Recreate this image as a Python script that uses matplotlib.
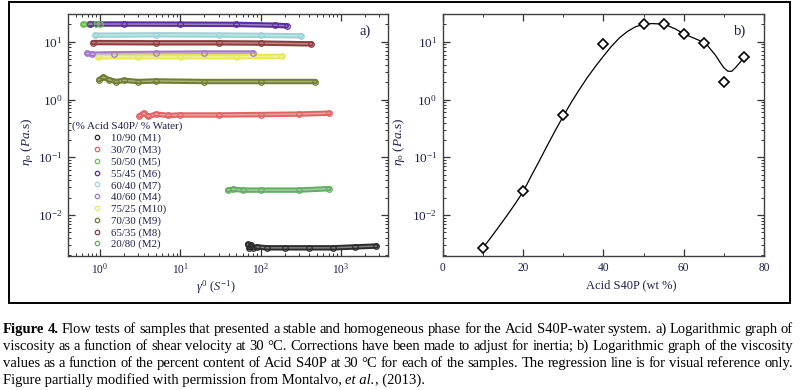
import numpy as np
import matplotlib
matplotlib.use('Agg')
import matplotlib.pyplot as plt
from matplotlib.lines import Line2D
from matplotlib.patches import Rectangle
from matplotlib.ticker import LogLocator, MultipleLocator, NullFormatter
from matplotlib.colors import to_rgb

plt.rcParams['font.family'] = ['Liberation Serif', 'DejaVu Serif']
plt.rcParams['mathtext.fontset'] = 'custom'
plt.rcParams['mathtext.rm'] = 'Liberation Serif'
plt.rcParams['mathtext.it'] = 'Liberation Serif:italic'
plt.rcParams['mathtext.bf'] = 'Liberation Serif:bold'

NAVY = '#1f1f4d'

# ---------------- Panel a data (viscosity vs shear rate) ----------------
series_labels = ['10/90 (M1)', '30/70 (M3)', '50/50 (M5)', '55/45 (M6)', '60/40 (M7)',
                 '40/60 (M4)', '75/25 (M10)', '70/30 (M9)', '65/35 (M8)', '20/80 (M2)']
series_colors = ['#2b2b2b', '#e06464', '#6cbf4f', '#5a2c98', '#9ad4d4',
                 '#a577cc', '#e8e858', '#6f7d2e', '#8c3c3c', '#62ad62']

m1_x = [69, 72, 76, 80, 90, 120, 200, 400, 800, 1500, 2750]
m1_y = [0.0031, 0.0027, 0.0030, 0.0027, 0.0028, 0.0027, 0.0027, 0.0027, 0.0027, 0.0028, 0.0029]
m3_x = [3.1, 3.5, 4.0, 5.0, 7.0, 10, 30, 100, 300, 710]
m3_y = [0.52, 0.58, 0.51, 0.56, 0.53, 0.54, 0.54, 0.55, 0.56, 0.58]
m5_x = [0.62, 0.75, 0.9, 1.0]
m5_y = [20.0, 20.2, 20.3, 20.3]
m6_x = [0.75, 2, 10, 50, 150, 210]
m6_y = [20.3, 20.3, 20.2, 20.0, 19.4, 18.9]
m7_x = [0.87, 5, 30, 100, 320]
m7_y = [13.0, 13.2, 13.1, 12.9, 12.7]
m8_x = [0.82, 5, 30, 100, 425]
m8_y = [9.7, 9.6, 9.6, 9.5, 9.2]
m4_x = [0.69, 0.8, 1.5, 5, 20, 80]
m4_y = [6.3, 6.1, 6.2, 6.3, 6.4, 6.4]
m10_x = [0.94, 3, 10, 50, 186]
m10_y = [5.5, 5.5, 5.5, 5.5, 5.6]
m9_x = [0.97, 1.1, 1.3, 1.6, 2, 3, 5, 20, 100, 480]
m9_y = [2.2, 2.45, 2.2, 2.05, 2.15, 2.05, 2.1, 2.05, 2.05, 2.05]
m2_x = [39, 45, 60, 100, 300, 710]
m2_y = [0.027, 0.028, 0.027, 0.027, 0.027, 0.0286]

series_x = [m1_x, m3_x, m5_x, m6_x, m7_x, m4_x, m10_x, m9_x, m8_x, m2_x]
series_y = [m1_y, m3_y, m5_y, m6_y, m7_y, m4_y, m10_y, m9_y, m8_y, m2_y]

# ---------------- Panel b data ----------------
acid_wt = [10, 20, 30, 40, 50, 55, 60, 65, 70, 75]
eta_o = [0.0027, 0.026, 0.53, 9.0, 20.0, 20.3, 13.4, 9.7, 2.0, 5.4]
curve_x = [10, 12, 14, 16, 18, 20, 22, 24, 26, 28, 30, 32, 34, 36, 38, 40, 42, 44, 46, 48,
           50, 52, 54, 56, 58, 60, 62, 64, 66, 68, 69, 70, 71, 72, 73, 74, 75]
curve_y = [0.00269, 0.00407, 0.00631, 0.00977, 0.0155, 0.0251, 0.0468, 0.0851, 0.158, 0.288,
           0.513, 0.891, 1.48, 2.40, 3.72, 5.62, 8.32, 11.7, 15.1, 18.2,
           20.0, 20.7, 20.4, 19.1, 16.6, 13.8, 12.0, 10.5, 8.51, 5.75, 4.47, 3.55, 3.09, 3.09,
           3.63, 4.37, 5.37]

legend_title = '(% Acid S40P/ % Water)'

W, H = 803, 390
fig = plt.figure(figsize=(W / 100, H / 100), dpi=100)
fig.patch.set_facecolor('white')

def px_axes(l, t, r, b):
    return fig.add_axes([l / W, 1 - b / H, (r - l) / W, (b - t) / H])

ax1 = px_axes(68, 14, 388, 256)
ax2 = px_axes(442.7, 14, 764, 256)

def lighten(c, f):
    r, g, b = to_rgb(c)
    return (r + (1 - r) * f, g + (1 - g) * f, b + (1 - b) * f)

for xs, ys, c in zip(series_x, series_y, series_colors):
    ax1.plot(xs, ys, '-', color=c, lw=3.9, solid_capstyle='round', zorder=2)
    ax1.plot(xs, ys, '-', color=lighten(c, 0.4), lw=1.1, zorder=2.1)
    ax1.plot(xs, ys, 'o', mfc='none', mec=c, ms=4.0, mew=0.9, zorder=2.2)

ax1.set_xscale('log')
ax1.set_yscale('log')
ax1.set_xlim(0.4, 3850)
ax1.set_ylim(0.00195, 30.3)

ax2.plot(curve_x, curve_y, '-', color='black', lw=0.9, zorder=2)
ax2.plot(acid_wt, eta_o, 'D', mfc='white', mec='black', ms=5.6, mew=1.2, zorder=3)
ax2.set_yscale('log')
ax2.set_xlim(0, 80)
ax2.set_ylim(0.00195, 30.3)
ax2.xaxis.set_major_locator(MultipleLocator(20))
ax2.xaxis.set_minor_locator(MultipleLocator(10))

for ax in (ax1, ax2):
    ax.yaxis.set_major_locator(LogLocator(base=10, numticks=20))
    ax.yaxis.set_minor_locator(LogLocator(base=10, subs=np.arange(2, 10), numticks=20))
    ax.yaxis.set_minor_formatter(NullFormatter())
    ax.tick_params(which='both', direction='in', top=True, right=True, colors='#333333',
                   labelcolor=NAVY)
    ax.tick_params(axis='y', labelsize=9.5)
    ax.tick_params(axis='x', labelsize=8.3)
    ax.tick_params(which='major', length=5, width=0.9, pad=4)
    ax.tick_params(which='minor', length=2.5, width=0.7)
    for s in ax.spines.values():
        s.set_color('#404040')
        s.set_linewidth(1.0)

ax1.xaxis.set_major_locator(LogLocator(base=10, numticks=20))
ax1.xaxis.set_minor_locator(LogLocator(base=10, subs=np.arange(2, 10), numticks=20))
ax1.xaxis.set_minor_formatter(NullFormatter())

ylab = r'$\eta_\mathregular{o}$ ($\mathit{Pa}$.s)'
ax1.set_ylabel(ylab, fontsize=9.5, color=NAVY)
ax2.set_ylabel(ylab, fontsize=9.5, color=NAVY)
ax1.yaxis.set_label_coords(-0.102, 0.47)
ax2.yaxis.set_label_coords(-0.112, 0.47)
ax1.set_xlabel(r'$\gamma^0$ ($\mathit{S}^{-1}$)', fontsize=9, color=NAVY)
ax2.set_xlabel('Acid S40P (wt %)', fontsize=9, color=NAVY)
ax1.xaxis.set_label_coords(0.4625, -0.093)
ax2.xaxis.set_label_coords(0.588, -0.095)

ax1.text(0.928, 0.93, 'a)', transform=ax1.transAxes, fontsize=10.5, color=NAVY, ha='center', va='center')
ax2.text(0.925, 0.93, 'b)', transform=ax2.transAxes, fontsize=10.5, color=NAVY, ha='center', va='center')

# legend
handles = [Line2D([], [], ls='none', marker='o', mfc='none', mec=c, ms=3.2, mew=0.9)
           for c in series_colors]
ax1.text(0.0125, 0.537, legend_title, transform=ax1.transAxes, fontsize=8, color=NAVY,
         ha='left', va='center')
leg = ax1.legend(handles, series_labels, loc='upper left', bbox_to_anchor=(0.073, 0.506),
                 frameon=False, fontsize=7.8, labelcolor=NAVY, handlelength=1.0,
                 handletextpad=0.8, labelspacing=0.18, borderpad=0, borderaxespad=0)

# outer border
fig.add_artist(Rectangle((9 / W, 1 - 303 / H), (790 - 9) / W, (303 - 2) / H,
                         transform=fig.transFigure, fill=False, lw=1.4, ec='black'))

# ---------------- caption (justified) ----------------
cap_lines = [
    [('Figure 4.', 'bold', 'normal'),
     ('Flow tests of samples that presented a stable and homogeneous phase for the Acid S40P-water system. a) Logarithmic graph of', 'normal', 'normal')],
    [('viscosity as a function of shear velocity at 30 \u00b0C. Corrections have been made to adjust for inertia; b) Logarithmic graph of the viscosity', 'normal', 'normal')],
    [('values as a function of the percent content of Acid S40P at 30 \u00b0C for each of the samples. The regression line is for visual reference only.', 'normal', 'normal')],
]
last_line = [('Figure partially modified with permission from Montalvo, ', 'normal', 'normal'),
             ('et al.', 'normal', 'italic'),
             (', (2013).', 'normal', 'normal')]
baselines = [333, 350, 367, 384]
x_left, x_right = 3, 793

fig.canvas.draw()
renderer = fig.canvas.get_renderer()

def make_words(line, fs):
    objs = []
    for txt, wt, st in line:
        for w in txt.split():
            t = fig.text(0, 0, w, fontsize=fs, fontweight=wt, fontstyle=st, color='black',
                         va='baseline', ha='left')
            objs.append(t)
    return objs

fs0 = 10.0
probe = fig.text(0, 0, 'a a', fontsize=fs0)
probe2 = fig.text(0, 0, 'aa', fontsize=fs0)
space0 = probe.get_window_extent(renderer).width - probe2.get_window_extent(renderer).width
probe.remove(); probe2.remove()

scale = 10.0
for line in cap_lines:
    objs = make_words(line, fs0)
    tot = sum(o.get_window_extent(renderer).width for o in objs) + space0 * 0.8 * (len(objs) - 1)
    scale = min(scale, (x_right - x_left) * 0.998 / tot)
    for o in objs:
        o.remove()
fs = fs0 * scale

for line, yb in zip(cap_lines, baselines[:3]):
    objs = make_words(line, fs)
    widths = [o.get_window_extent(renderer).width for o in objs]
    gap = ((x_right - x_left) - sum(widths)) / (len(objs) - 1)
    x = x_left
    for o, w in zip(objs, widths):
        o.set_position((x / W, 1 - yb / H))
        x += w + gap

x = x_left
for txt, wt, st in last_line:
    t = fig.text(x / W, 1 - baselines[3] / H, txt, fontsize=fs, fontweight=wt, fontstyle=st,
                 color='black', va='baseline', ha='left')
    x += t.get_window_extent(renderer).width

fig.savefig('out.png', dpi=100, facecolor='white')
